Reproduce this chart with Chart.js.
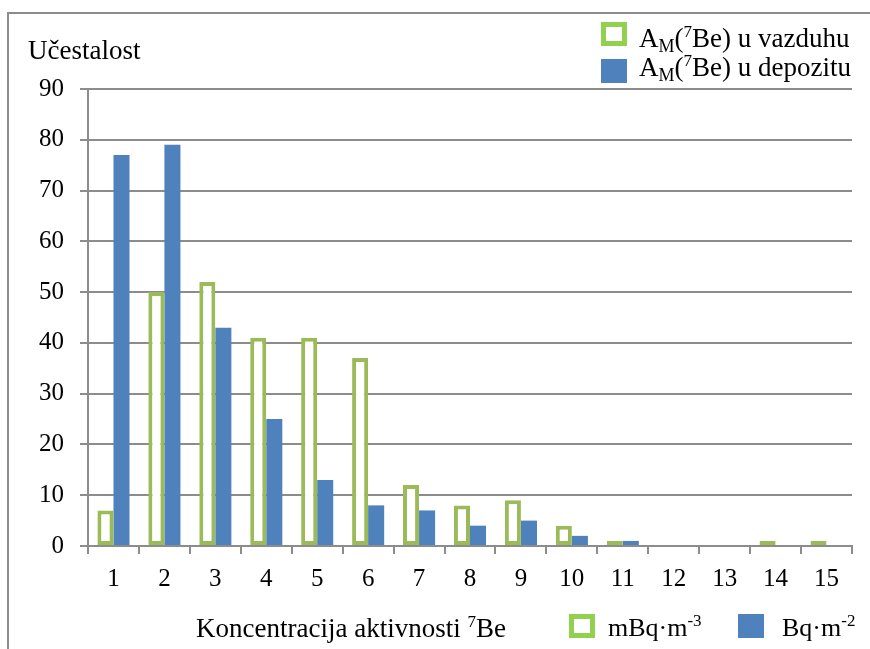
<!DOCTYPE html>
<html>
<head>
<meta charset="utf-8">
<script src="https://cdn.jsdelivr.net/npm/chart.js@4"></script>
<style>
  html, body { margin: 0; padding: 0; background: #fff; }
  #wrap { width: 870px; height: 649px; }
</style>
</head>
<body>
<div id="wrap"><canvas id="chart" width="870" height="649"></canvas></div>
<script>
// data
var categories = ['1','2','3','4','5','6','7','8','9','10','11','12','13','14','15'];
var vazduh  = [7, 50, 52, 41, 41, 37, 12, 8, 9, 4, 1, 0, 0, 1, 1];
var depozit = [77, 79, 43, 25, 13, 8, 7, 4, 5, 2, 1, 0, 0, 0, 0];
var yTicks = [0, 10, 20, 30, 40, 50, 60, 70, 80, 90];

var FONT = "'Liberation Serif', 'Times New Roman', serif";
var GREEN = '#9BBB59';
var BLUE = '#4F81BD';
var GRID = '#8C8C8C';

// draws text pieces with sub / superscripts, left to right
function drawRich(ctx, x, y, parts) {
	for (var i = 0; i < parts.length; i++) {
		var p = parts[i];
		ctx.font = p.size + 'px ' + FONT;
		ctx.fillText(p.t, x, y + (p.dy || 0));
		x += ctx.measureText(p.t).width;
	}
	return x;
}

function legendBox(ctx, x, y, hollow) {
	if (hollow) {
		ctx.strokeStyle = '#92D050';
		ctx.lineWidth = 5;
		ctx.strokeRect(x + 2.5, y + 2.5, 21, 19);
	} else {
		ctx.fillStyle = BLUE;
		ctx.fillRect(x, y, 26, 24);
	}
}

var decor = {
	id: 'decor',
	afterDraw: function(chart) {
		var ctx = chart.ctx;
		ctx.save();
		// outer frame (top and left edge)
		ctx.strokeStyle = GRID;
		ctx.lineWidth = 2;
		ctx.beginPath();
		ctx.moveTo(8, 649);
		ctx.lineTo(8, 13);
		ctx.lineTo(870, 13);
		ctx.stroke();

		ctx.fillStyle = '#000';
		ctx.textBaseline = 'alphabetic';
		ctx.textAlign = 'left';

		// y title
		drawRich(ctx, 28, 59, [{t: 'Učestalost', size: 27}]);

		// top legend
		legendBox(ctx, 601, 22, true);
		ctx.fillStyle = '#000';
		drawRich(ctx, 639, 47, [
			{t: 'A', size: 27}, {t: 'M', size: 18, dy: 5}, {t: '(', size: 27},
			{t: '7', size: 17, dy: -10}, {t: 'Be) u vazduhu', size: 27}
		]);
		legendBox(ctx, 601, 59, false);
		ctx.fillStyle = '#000';
		drawRich(ctx, 639, 76, [
			{t: 'A', size: 27}, {t: 'M', size: 18, dy: 5}, {t: '(', size: 27},
			{t: '7', size: 17, dy: -10}, {t: 'Be) u depozitu', size: 27}
		]);

		// x title
		drawRich(ctx, 196, 637, [
			{t: 'Koncentracija aktivnosti ', size: 27},
			{t: '7', size: 17, dy: -10}, {t: 'Be', size: 27}
		]);

		// bottom legend
		legendBox(ctx, 569, 614, true);
		ctx.fillStyle = '#000';
		drawRich(ctx, 608, 636, [
			{t: 'mBq·m', size: 26}, {t: '-3', size: 17, dy: -10}
		]);
		legendBox(ctx, 738, 614, false);
		ctx.fillStyle = '#000';
		drawRich(ctx, 782, 636, [
			{t: 'Bq·m', size: 26}, {t: '-2', size: 17, dy: -10}
		]);
		ctx.restore();
	}
};

var chartObj = new Chart(document.getElementById('chart'), {
	type: 'bar',
	data: {
		labels: categories,
		datasets: [
			{
				label: 'vazduh',
				data: vazduh,
				backgroundColor: '#FFFFFF',
				borderColor: GREEN,
				borderWidth: 4,
				borderSkipped: false,
				categoryPercentage: 0.63,
				barPercentage: 1.0
			},
			{
				label: 'depozit',
				data: depozit,
				backgroundColor: BLUE,
				borderWidth: 0,
				categoryPercentage: 0.63,
				barPercentage: 1.0
			}
		]
	},
	options: {
		responsive: false,
		animation: false,
		layout: { padding: { left: 0, top: 89, right: 18, bottom: 0 } },
		plugins: {
			legend: { display: false },
			tooltip: { enabled: false }
		},
		scales: {
			x: {
				offset: true,
				grid: {
					offset: true,
					drawOnChartArea: false,
					drawTicks: true,
					tickLength: 8,
					color: GRID,
					lineWidth: 2
				},
				border: { color: GRID, width: 2 },
				ticks: {
					color: '#000',
					font: { family: FONT, size: 25 },
					padding: 10,
					maxRotation: 0
				},
				afterFit: function(scale) { scale.height = 103; }
			},
			y: {
				min: 0,
				max: 90,
				afterBuildTicks: function(scale) {
					scale.ticks = yTicks.map(function(v) { return {value: v}; });
				},
				grid: {
					color: GRID,
					lineWidth: 2,
					tickLength: 8
				},
				border: { color: GRID, width: 2 },
				ticks: {
					color: '#000',
					font: { family: FONT, size: 25 },
					padding: 16
				},
				afterFit: function(scale) { scale.width = 88; }
			}
		}
	},
	plugins: [decor]
});
</script>
</body>
</html>
